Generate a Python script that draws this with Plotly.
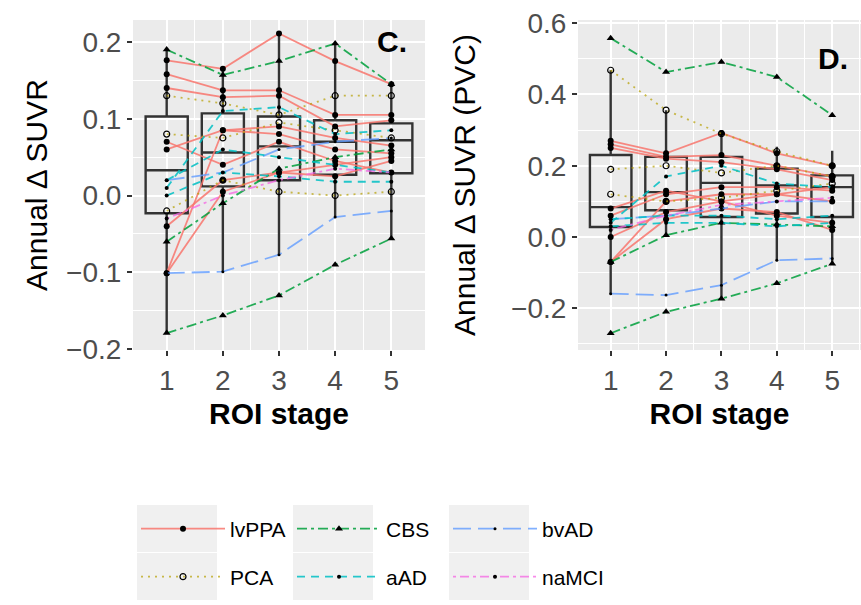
import plotly.graph_objects as go

# ---------------- data ----------------
stages = [1, 2, 3, 4, 5]
stage_ticks = ["1", "2", "3", "4", "5"]

# Panel C: annual delta SUVR, one list per subject (stages 1..5)
lvppa_c = [
    [0.176, 0.165, 0.211, 0.175, 0.145],
    [0.158, 0.137, 0.137, 0.105, 0.105],
    [0.140, 0.128, 0.130, 0.090, 0.098],
    [-0.101, 0.085, 0.090, 0.075, 0.065],
    [-0.101, 0.005, 0.030, 0.040, 0.050],
    [0.060, 0.085, 0.080, 0.060, 0.055],
    [0.070, 0.040, 0.070, 0.045, 0.030],
    [-0.040, 0.020, 0.030, 0.025, 0.045],
]
pca_c = [
    [0.130, 0.120, 0.105, 0.130, 0.130],
    [-0.020, 0.020, 0.005, 0.000, 0.005],
    [0.080, 0.075, 0.095, 0.085, 0.075],
]
cbs_c = [
    [0.190, 0.157, 0.175, 0.198, 0.145],
    [-0.179, -0.156, -0.130, -0.090, -0.056],
    [-0.060, -0.010, 0.035, 0.050, 0.060],
]
aad_c = [
    [0.010, 0.110, 0.115, 0.080, 0.085],
    [0.000, 0.030, 0.025, 0.018, 0.018],
    [0.020, 0.060, 0.050, 0.040, 0.030],
]
bvad_c = [
    [-0.101, -0.099, -0.077, -0.028, -0.020],
    [0.020, 0.030, 0.060, 0.070, 0.075],
]
namci_c = [
    [-0.030, 0.000, 0.020, 0.035, 0.030],
]

# Panel D: annual delta SUVR (PVC)
lvppa_d = [
    [0.270, 0.235, 0.292, 0.235, 0.200],
    [0.260, 0.225, 0.230, 0.200, 0.170],
    [0.250, 0.220, 0.210, 0.190, 0.160],
    [-0.070, 0.100, 0.120, 0.120, 0.100],
    [-0.070, 0.050, 0.080, 0.070, 0.020],
    [0.060, 0.120, 0.140, 0.140, 0.130],
    [0.080, 0.130, 0.100, 0.060, 0.040],
    [0.000, 0.070, 0.100, 0.120, 0.140],
]
pca_d = [
    [0.468, 0.356, 0.290, 0.240, 0.200],
    [0.190, 0.200, 0.180, 0.200, 0.170],
    [0.120, 0.100, 0.110, 0.130, 0.150],
]
cbs_d = [
    [0.558, 0.463, 0.491, 0.449, 0.342],
    [-0.270, -0.210, -0.173, -0.130, -0.075],
    [-0.070, 0.005, 0.040, 0.035, 0.030],
]
aad_d = [
    [0.040, 0.170, 0.200, 0.150, 0.140],
    [0.030, 0.040, 0.040, 0.030, 0.040],
    [0.050, 0.060, 0.060, 0.050, 0.060],
]
bvad_d = [
    [-0.159, -0.163, -0.135, -0.065, -0.060],
    [0.050, 0.060, 0.080, 0.100, 0.100],
]
namci_d = [
    [0.020, 0.060, 0.090, 0.100, 0.110],
]

# Boxplot summaries per stage
box_c_q1 = [-0.023, 0.012, 0.020, 0.027, 0.029]
box_c_med = [0.033, 0.056, 0.064, 0.070, 0.072]
box_c_q3 = [0.103, 0.107, 0.103, 0.098, 0.094]
box_c_lo = [-0.179, -0.099, -0.077, -0.028, -0.056]
box_c_hi = [0.192, 0.166, 0.211, 0.198, 0.148]

box_d_q1 = [0.028, 0.075, 0.056, 0.066, 0.056]
box_d_med = [0.084, 0.126, 0.152, 0.145, 0.140]
box_d_q3 = [0.230, 0.225, 0.225, 0.192, 0.173]
box_d_lo = [-0.159, 0.005, -0.173, -0.065, -0.075]
box_d_hi = [0.468, 0.356, 0.292, 0.253, 0.242]

group_names = ["lvPPA", "CBS", "bvAD", "PCA", "aAD", "naMCI"]  # legend order (row-wise)

# ---------------- styles ----------------
FONT = "Liberation Sans, Arial, Helvetica, sans-serif"
styles = {
    "lvPPA": dict(color="rgba(248,118,109,0.85)", dash="solid", symbol="circle", size=6, legend="legend"),
    "CBS": dict(color="rgba(0,160,60,0.85)", dash="10px,4px,3px,4px", symbol="triangle-up", size=7, legend="legend"),
    "bvAD": dict(color="rgba(97,156,255,0.8)", dash="18px,7px", symbol="circle", size=3, legend="legend"),
    "PCA": dict(color="rgba(183,159,0,0.7)", dash="2px,5px", symbol="circle-open", size=6, legend="legend2"),
    "aAD": dict(color="rgba(0,191,196,0.85)", dash="8px,6px", symbol="circle", size=4, legend="legend2"),
    "naMCI": dict(color="rgba(245,100,227,0.75)", dash="3px,4px,9px,4px", symbol="circle", size=4, legend="legend2"),
}
data_c = {"lvPPA": lvppa_c, "PCA": pca_c, "CBS": cbs_c, "aAD": aad_c, "bvAD": bvad_c, "naMCI": namci_c}
data_d = {"lvPPA": lvppa_d, "PCA": pca_d, "CBS": cbs_d, "aAD": aad_d, "bvAD": bvad_d, "naMCI": namci_d}

fig = go.Figure()

BOX_LINE = "#333333"
for (q1, med, q3, lo, hi, xa, ya) in [
    (box_c_q1, box_c_med, box_c_q3, box_c_lo, box_c_hi, "x", "y"),
    (box_d_q1, box_d_med, box_d_q3, box_d_lo, box_d_hi, "x2", "y2"),
]:
    fig.add_trace(go.Box(
        x=stages, q1=q1, median=med, q3=q3, lowerfence=lo, upperfence=hi,
        xaxis=xa, yaxis=ya, width=0.75, whiskerwidth=0,
        line=dict(color=BOX_LINE, width=2.4), fillcolor="rgba(0,0,0,0)",
        boxpoints=False, showlegend=False, hoverinfo="skip",
    ))

for g in group_names:
    st = styles[g]
    for panel, dd, xa, ya in [("C", data_c, "x", "y"), ("D", data_d, "x2", "y2")]:
        for i, subj in enumerate(dd[g]):
            fig.add_trace(go.Scatter(
                x=stages, y=subj, xaxis=xa, yaxis=ya, mode="lines+markers",
                name=g, legendgroup=g, legend=st["legend"],
                showlegend=(panel == "C" and i == 0),
                line=dict(color=st["color"], width=1.8, dash=st["dash"]),
                marker=dict(color="black", symbol=st["symbol"], size=st["size"],
                            line=dict(color="black", width=1.2 if st["symbol"].endswith("open") else 0)),
            ))

W, H = 861, 605
ydom = [1 - 350 / H, 1 - 20 / H]

axis_common = dict(
    showline=False, zeroline=False, ticks="outside", ticklen=5, tickwidth=1.8,
    tickcolor="#333333", gridcolor="white", gridwidth=1.6, automargin=False,
    tickfont=dict(family=FONT, size=28, color="#4D4D4D"),
)

# legend key backgrounds (ggplot-style grey key boxes)
KEY_X0, KEY_W, KEY_STEP = 137, 80, 156
key_rows = [(505, 552), (553, 600)]
shapes = []
for col in range(3):
    for (r0, r1) in key_rows:
        shapes.append(dict(type="rect", xref="paper", yref="paper", layer="below",
                           x0=(KEY_X0 + col * KEY_STEP) / W, x1=(KEY_X0 + col * KEY_STEP + KEY_W) / W,
                           y0=1 - r1 / H, y1=1 - r0 / H, fillcolor="#F0F0F0", line=dict(width=0)))

legend_common = dict(orientation="h", x=136 / W, xanchor="left", yanchor="middle",
                     entrywidth=57, entrywidthmode="pixels", itemwidth=84,
                     font=dict(family=FONT, size=21, color="black"), bgcolor="rgba(0,0,0,0)")

fig.update_layout(
    width=W, height=H, margin=dict(l=0, r=0, t=0, b=0, autoexpand=False),
    paper_bgcolor="white", plot_bgcolor="#EBEBEB",
    font=dict(family=FONT, color="black"),
    shapes=shapes,
    xaxis=dict(domain=[133 / W, 425 / W], range=[0.4, 5.6], tickvals=stages, ticktext=stage_ticks,
               minor=dict(tickvals=[1.5, 2.5, 3.5, 4.5], showgrid=True, gridcolor="white", gridwidth=0.8, ticks=""),
               title=dict(text="<b>ROI stage</b>", font=dict(family=FONT, size=30, color="black"), standoff=8),
               **axis_common),
    yaxis=dict(domain=ydom, range=[-0.201, 0.2285], dtick=0.1, tickformat=".1f",
               minor=dict(dtick=0.05, showgrid=True, gridcolor="white", gridwidth=0.8, ticks=""),
               title=dict(text="Annual Δ SUVR", font=dict(family=FONT, size=30, color="black"), standoff=9),
               **axis_common),
    xaxis2=dict(domain=[578 / W, 1.0], range=[0.41, 5.52], tickvals=stages, ticktext=stage_ticks, anchor="y2",
                minor=dict(tickvals=[1.5, 2.5, 3.5, 4.5, 5.5], showgrid=True, gridcolor="white", gridwidth=0.8, ticks=""),
                title=dict(text="<b>ROI stage</b>", font=dict(family=FONT, size=30, color="black"), standoff=8),
                **axis_common),
    yaxis2=dict(domain=ydom, range=[-0.317, 0.609], dtick=0.2, tickformat=".1f", anchor="x2",
                minor=dict(dtick=0.1, showgrid=True, gridcolor="white", gridwidth=0.8, ticks=""),
                title=dict(text="Annual Δ SUVR (PVC)", font=dict(family=FONT, size=30, color="black"), standoff=26),
                **axis_common),
    legend=dict(y=1 - 529 / H, **legend_common),
    legend2=dict(y=1 - 577 / H, **legend_common),
    showlegend=True,
)

fig.add_annotation(x=5.02, y=0.2, xref="x", yref="y", text="<b>C.</b>", showarrow=False,
                   font=dict(family=FONT, size=30, color="black"))
fig.add_annotation(x=5.02, y=0.5, xref="x2", yref="y2", text="<b>D.</b>", showarrow=False,
                   font=dict(family=FONT, size=30, color="black"))

fig.write_html("out.html", config={"displayModeBar": False},
               post_script="document.body.style.margin='0';")
